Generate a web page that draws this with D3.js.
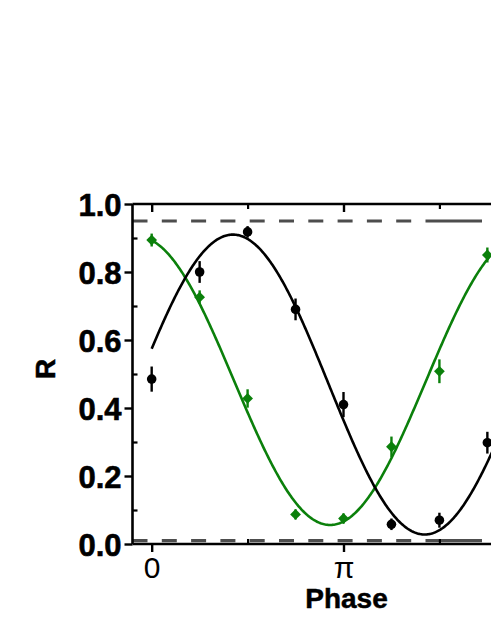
<!DOCTYPE html>
<html>
<head>
<meta charset="utf-8">
<script src="https://cdn.jsdelivr.net/npm/d3@7"></script>
<style>
  html, body { margin: 0; padding: 0; background: #fff; }
  svg { display: block; }
</style>
</head>
<body>
<svg id="chart" width="491" height="635"></svg>
<script>
// ---- data ----
const phaseSteps = [0, 1, 2, 3, 4, 5, 6, 7];           // multiples of pi/4
const blackValues = [0.485, 0.800, 0.918, 0.690, 0.410, 0.058, 0.070, 0.298];
const blackErrors = [0.037, 0.032, 0.017, 0.032, 0.037, 0.017, 0.022, 0.032];
const greenValues = [0.894, 0.726, 0.428, 0.087, 0.075, 0.286, 0.508, 0.850];
const greenErrors = [0.019, 0.020, 0.027, 0.015, 0.015, 0.030, 0.035, 0.022];
// cosine fits: offset, amplitude, phase of maximum (rad)
const blackFit = [0.469, 0.441, 1.33];
const greenFit = [0.4796, 0.4236, -0.22];
const refLines = [0.95, 0.01];
const yTicks = [0, 0.2, 0.4, 0.6, 0.8, 1.0];
const yMinorTicks = [0.1, 0.3, 0.5, 0.7, 0.9];
const xTicks = [0, Math.PI];
const xTickLabels = ["0", "π"];
const xMinorTicks = [Math.PI / 2, 3 * Math.PI / 2];

(function () {
const svg = d3.select("#chart");
const mLeft = 132.5, mRight = 554.5, mTop = 204, mBottom = 544;
const x = d3.scaleLinear().domain([-0.1 * Math.PI, 2.1 * Math.PI]).range([mLeft, mRight]);
const y = d3.scaleLinear().domain([0, 1]).range([mBottom, mTop]);

const green = "#0b800b";
const font = "'Liberation Sans', Arial, sans-serif";

// reference dashed lines
refLines.forEach(v => {
  const x0 = mLeft, x1 = 482;
  const pattern = [];
  let pos = 0;
  while (pos + 29.3 < (x1 - x0) - 30) { pattern.push(15, 14.3); pos += 29.3; }
  pattern.push((x1 - x0) - pos, 100);
  svg.append("line")
    .attr("x1", x0).attr("x2", x1)
    .attr("y1", y(v)).attr("y2", y(v))
    .attr("stroke", "#4d4d4d").attr("stroke-width", 3.2)
    .attr("stroke-dasharray", pattern.join(","));
});

// fit curves
const sampleX = d3.range(0, 2 * Math.PI + 0.001, Math.PI / 200);
function fitCurve(p, color) {
  const line = d3.line()
    .x(d => x(d))
    .y(d => y(p[0] + p[1] * Math.cos(d - p[2])));
  svg.append("path").datum(sampleX)
    .attr("d", line).attr("fill", "none")
    .attr("stroke", color).attr("stroke-width", 2.6);
}
fitCurve(greenFit, green);
fitCurve(blackFit, "#000");

// error bars + markers
function drawSeries(vals, errs, color, kind) {
  const g = svg.append("g");
  phaseSteps.forEach((k, i) => {
    const px = x(k * Math.PI / 4);
    g.append("line")
      .attr("x1", px).attr("x2", px)
      .attr("y1", y(vals[i] - errs[i])).attr("y2", y(vals[i] + errs[i]))
      .attr("stroke", color).attr("stroke-width", 2.4);
    if (kind === "circle") {
      g.append("path")
        .attr("transform", `translate(${px},${y(vals[i])})`)
        .attr("d", d3.symbol().type(d3.symbolCircle).size(72)())
        .attr("fill", color);
    } else {
      g.append("path")
        .attr("transform", `translate(${px},${y(vals[i])}) rotate(45)`)
        .attr("d", d3.symbol().type(d3.symbolSquare).size(58)())
        .attr("fill", color);
    }
  });
}
drawSeries(blackValues, blackErrors, "#000", "circle");
drawSeries(greenValues, greenErrors, green, "diamond");

// axes frame
svg.append("line").attr("x1", mLeft).attr("x2", mLeft).attr("y1", mTop).attr("y2", mBottom)
  .attr("stroke", "#000").attr("stroke-width", 2.6);
svg.append("line").attr("x1", mLeft).attr("x2", 600).attr("y1", mBottom).attr("y2", mBottom)
  .attr("stroke", "#000").attr("stroke-width", 2.6);
svg.append("line").attr("x1", mLeft).attr("x2", 600).attr("y1", mTop).attr("y2", mTop)
  .attr("stroke", "#000").attr("stroke-width", 2.6);

// y axis (major outward, minor inward)
const yAxis = svg.append("g").attr("transform", `translate(${mLeft},0)`)
  .call(d3.axisLeft(y).tickValues(yTicks).tickFormat(d3.format(".1f")).tickSize(8).tickPadding(3));
yAxis.select(".domain").remove();
yAxis.selectAll(".tick line").attr("stroke-width", 2.4);
yAxis.selectAll(".tick text")
  .attr("font-family", font)
  .attr("font-weight", "bold").attr("font-size", 31).attr("fill", "#000")
  .attr("stroke", "#000").attr("stroke-width", 0.6)
  .attr("dy", "0.36em");
const yMinor = svg.append("g").attr("transform", `translate(${mLeft},0)`)
  .call(d3.axisRight(y).tickValues(yMinorTicks).tickSize(5).tickFormat(""));
yMinor.select(".domain").remove();
yMinor.selectAll(".tick line").attr("stroke-width", 2.2);

// x axis bottom (major outward, minor inward)
const xAxis = svg.append("g").attr("transform", `translate(0,${mBottom})`)
  .call(d3.axisBottom(x).tickValues(xTicks).tickFormat((d, i) => xTickLabels[i]).tickSize(8).tickPadding(5));
xAxis.select(".domain").remove();
xAxis.selectAll(".tick line").attr("stroke-width", 2.4);
xAxis.selectAll(".tick text")
  .attr("font-family", font)
  .attr("font-size", 30).attr("fill", "#000");
const xMinor = svg.append("g").attr("transform", `translate(0,${mBottom})`)
  .call(d3.axisTop(x).tickValues(xMinorTicks).tickSize(5).tickFormat(""));
xMinor.select(".domain").remove();
xMinor.selectAll(".tick line").attr("stroke-width", 2.2);

// top axis ticks (inward)
const xTop = svg.append("g").attr("transform", `translate(0,${mTop})`)
  .call(d3.axisBottom(x).tickValues(xTicks).tickSize(8).tickFormat(""));
xTop.select(".domain").remove();
xTop.selectAll(".tick line").attr("stroke-width", 2.4);
const xTopMinor = svg.append("g").attr("transform", `translate(0,${mTop})`)
  .call(d3.axisBottom(x).tickValues(xMinorTicks).tickSize(5).tickFormat(""));
xTopMinor.select(".domain").remove();
xTopMinor.selectAll(".tick line").attr("stroke-width", 2.2);

// axis titles
svg.append("text")
  .attr("x", 346.5).attr("y", 608)
  .attr("text-anchor", "middle")
  .attr("font-family", font)
  .attr("font-weight", "bold").attr("font-size", 28)
  .attr("stroke", "#000").attr("stroke-width", 0.5)
  .text("Phase");
svg.append("text")
  .attr("transform", "translate(55,369) rotate(-90)")
  .attr("text-anchor", "middle")
  .attr("font-family", font)
  .attr("font-weight", "bold").attr("font-size", 28)
  .attr("stroke", "#000").attr("stroke-width", 0.5)
  .text("R");
})();
</script>
</body>
</html>
